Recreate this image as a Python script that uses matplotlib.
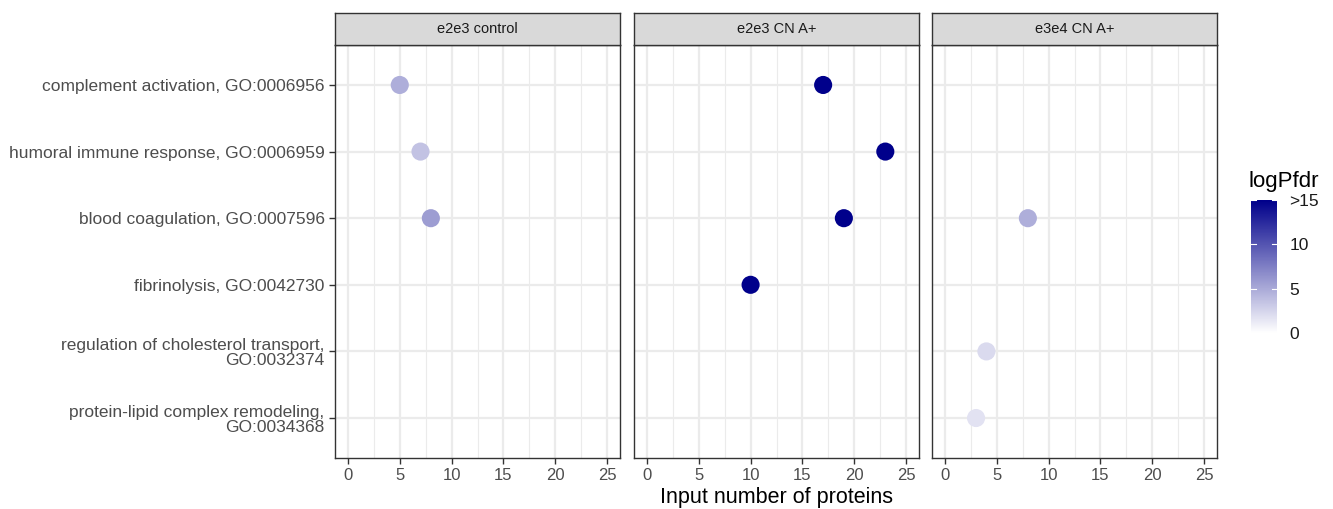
import numpy as np
import matplotlib
matplotlib.use("Agg")
import matplotlib.pyplot as plt
from matplotlib.colors import LinearSegmentedColormap, Normalize

plt.rcParams['font.family'] = ['Liberation Sans', 'DejaVu Sans']

terms = [
    "complement activation, GO:0006956",
    "humoral immune response, GO:0006959",
    "blood coagulation, GO:0007596",
    "fibrinolysis, GO:0042730",
    "regulation of cholesterol transport,\nGO:0032374",
    "protein-lipid complex remodeling,\nGO:0034368",
]
panels = ["e2e3 control", "e2e3 CN A+", "e3e4 CN A+"]

# (term index, count, logPfdr) per panel
ctrl_term = [0, 1, 2]
ctrl_count = [5, 7, 8]
ctrl_logp = [4.8, 3.6, 5.8]

e2e3_term = [0, 1, 2, 3]
e2e3_count = [17, 23, 19, 10]
e2e3_logp = [20, 20, 20, 20]

e3e4_term = [2, 4, 5]
e3e4_count = [8, 4, 3]
e3e4_logp = [4.8, 2.2, 1.7]

cbar_ticks = [0, 5, 10, 15]
cbar_labels = ["0", "5", "10", ">15"]
x_ticks = [0, 5, 10, 15, 20, 25]

cmap = LinearSegmentedColormap.from_list("wb", ["#FFFFFF", "#00008B"])
norm = Normalize(0, 15, clip=True)

W, H = 1333, 509
fig = plt.figure(figsize=(W / 100, H / 100), dpi=100)


def px(x0, y0, x1, y1):
    return [x0 / W, 1 - y1 / H, (x1 - x0) / W, (y1 - y0) / H]


panel_x = [(335, 620), (634, 919), (932, 1217)]
data = [(ctrl_term, ctrl_count, ctrl_logp),
        (e2e3_term, e2e3_count, e2e3_logp),
        (e3e4_term, e3e4_count, e3e4_logp)]

grid_col = "#EBEBEB"
for i, ((x0, x1), (tt, cc, lp)) in enumerate(zip(panel_x, data)):
    ax = fig.add_axes(px(x0, 45, x1, 458))
    ax.set_xlim(-1.25, 26.25)
    ax.set_ylim(len(terms) - 0.5 + 0.1, -0.5 - 0.1)
    for v in x_ticks:
        ax.axvline(v, color=grid_col, lw=1.6, zorder=0)
    for v in np.arange(2.5, 25, 5):
        ax.axvline(v, color=grid_col, lw=0.8, zorder=0)
    for k in range(len(terms)):
        ax.axhline(k, color=grid_col, lw=1.6, zorder=0)
    ax.scatter(cc, tt, c=np.clip(lp, 0, 15), cmap=cmap, norm=norm,
               s=170, linewidths=0, zorder=3)
    ax.set_xticks(x_ticks)
    ax.set_xticklabels([str(v) for v in x_ticks])
    ax.set_yticks(range(len(terms)))
    ax.tick_params(axis="both", colors="#333333", labelcolor="#4D4D4D",
                   labelsize=12, length=4, width=1)
    if i == 0:
        ax.set_yticklabels(terms, fontsize=12.5, color="#4D4D4D",
                           linespacing=1.0)
    else:
        ax.set_yticklabels([])
        ax.tick_params(axis="y", length=0)
    for s in ax.spines.values():
        s.set_color("#333333")
        s.set_linewidth(1.0)
    # strip
    sax = fig.add_axes(px(x0, 13, x1, 45))
    sax.set_facecolor("#D9D9D9")
    sax.set_xticks([])
    sax.set_yticks([])
    for s in sax.spines.values():
        s.set_color("#333333")
        s.set_linewidth(1.0)
    sax.text(0.5, 0.5, panels[i], ha="center", va="center",
             fontsize=10.5, color="#1A1A1A", transform=sax.transAxes)

fig.text(776 / W, 1 - 497 / H, "Input number of proteins", ha="center",
         va="center", fontsize=15.5, color="black")

# colour bar
cax = fig.add_axes(px(1251, 200, 1277, 333))
grad = np.linspace(0, 15, 300).reshape(-1, 1)
cax.imshow(grad, aspect="auto", cmap=cmap, norm=norm, origin="lower",
           extent=[0, 1, 0, 15])
for v in cbar_ticks:
    cax.plot([0, 0.2], [v, v], color="white", lw=0.8)
    cax.plot([0.8, 1], [v, v], color="white", lw=0.8)
cax.set_xlim(0, 1)
cax.set_ylim(0, 15)
cax.set_xticks([])
cax.yaxis.tick_right()
cax.set_yticks(cbar_ticks)
cax.set_yticklabels(cbar_labels, fontsize=12.5, color="#1A1A1A")
cax.tick_params(axis="y", length=0, pad=9)
for s in cax.spines.values():
    s.set_visible(False)
fig.text(1249 / W, 1 - 181 / H, "logPfdr", ha="left", va="center",
         fontsize=16, color="black")

fig.savefig("out.png", dpi=100, facecolor="white")
